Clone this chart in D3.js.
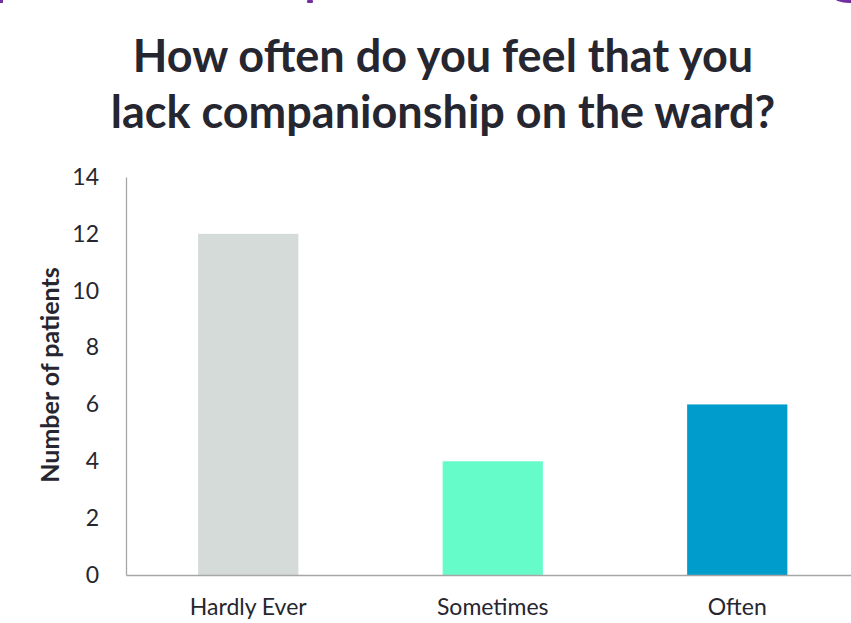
<!DOCTYPE html>
<html>
<head>
<meta charset="utf-8">
<script src="https://cdn.jsdelivr.net/npm/d3@7"></script>
<style>
  body { margin: 0; background: #fff; }
  svg { display: block; font-family: Lato, "Open Sans", sans-serif; }
</style>
</head>
<body>
<svg id="chart" width="851" height="623"></svg>
<script>
// chart data
const categories = ['Hardly Ever', 'Sometimes', 'Often']
const patients = [12, 4, 6]
const barColors = ['#d5dbd8', '#66fcc9', '#009ccc']
const yTicks = [0, 2, 4, 6, 8, 10, 12, 14]
const titleLines = ['How often do you feel that you', 'lack companionship on the ward?']

const svg = d3.select('#chart')
const textColor = '#262630'

// cut-off purple heading fragments along the top edge
svg.append('rect').attr('x', 0).attr('y', 0).attr('width', 3).attr('height', 3).attr('fill', '#7030a0')
svg.append('rect').attr('x', 307).attr('y', 0).attr('width', 6).attr('height', 3).attr('rx', 1).attr('fill', '#7030a0')
svg.append('ellipse').attr('cx', 849).attr('cy', -3).attr('rx', 15).attr('ry', 6).attr('fill', '#7030a0')

// title
svg.append('text')
  .attr('x', 443).attr('text-anchor', 'middle')
  .attr('font-size', 45).attr('font-weight', 'bold').attr('fill', textColor)
  .selectAll('tspan')
  .data(titleLines)
  .enter().append('tspan')
  .attr('x', 443)
  .attr('y', (d, i) => 72 + i * 56)
  .text(d => d)

const x = d3.scaleBand().domain(categories).range([126, 859.5]).paddingInner(0.59).paddingOuter(0.295)
const y = d3.scaleLinear().domain([0, 14]).range([575, 177])

// bars
svg.selectAll('rect.bar')
  .data(patients)
  .enter().append('rect')
  .attr('class', 'bar')
  .attr('x', (d, i) => x(categories[i]))
  .attr('y', d => y(d))
  .attr('width', x.bandwidth())
  .attr('height', d => y(0) - y(d))
  .attr('fill', (d, i) => barColors[i])

// y axis
const yAxis = d3.axisLeft(y).tickValues(yTicks).tickSize(0).tickPadding(27)
const gy = svg.append('g').attr('transform', 'translate(126,0)').call(yAxis)
gy.select('.domain').attr('stroke', '#a6a6a6').attr('stroke-width', 1.3)
gy.selectAll('text').attr('font-size', 23).attr('fill', textColor).attr('font-family', 'Lato, sans-serif')

// x axis
const xAxis = d3.axisBottom(x).tickSize(0).tickPadding(24)
const gx = svg.append('g').attr('transform', 'translate(0,575)').call(xAxis)
gx.select('.domain').attr('stroke', '#a6a6a6').attr('stroke-width', 1.3)
gx.selectAll('text').attr('font-size', 23).attr('fill', textColor).attr('font-family', 'Lato, sans-serif')

// y axis title
svg.append('text')
  .attr('transform', 'translate(59,375) rotate(-90)')
  .attr('text-anchor', 'middle')
  .attr('font-size', 25).attr('font-weight', 'bold').attr('fill', textColor)
  .text('Number of patients')
</script>
</body>
</html>
